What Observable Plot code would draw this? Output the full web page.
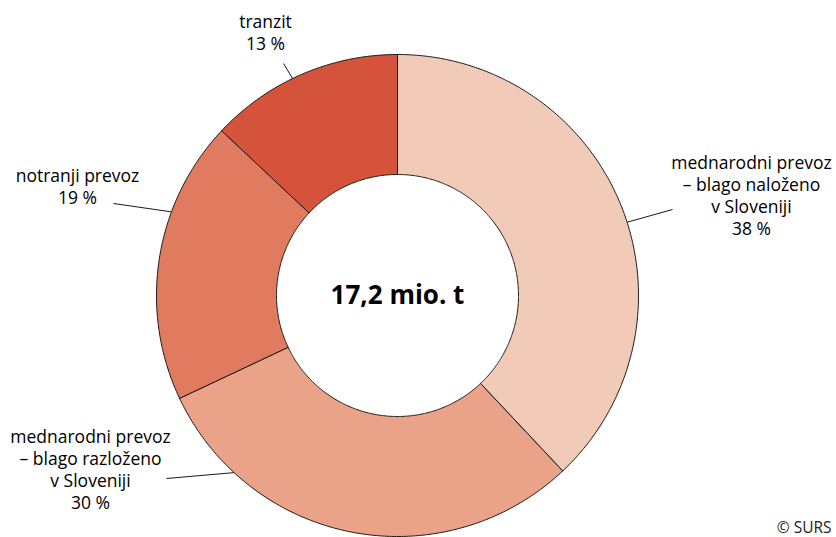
<!DOCTYPE html>
<html>
<head>
<meta charset="utf-8">
<script src="https://cdn.jsdelivr.net/npm/d3@7"></script>
<script src="https://cdn.jsdelivr.net/npm/@observablehq/plot@0.6"></script>
<style>
  html, body { margin: 0; padding: 0; background: #fff; }
  #chart svg { display: block; }
</style>
</head>
<body>
<div id="chart"></div>
<script>
// ---- data ----
const categories = [
  "mednarodni prevoz – blago naloženo v Sloveniji",
  "mednarodni prevoz – blago razloženo v Sloveniji",
  "notranji prevoz",
  "tranzit"
];
const labelText = [
  "mednarodni prevoz\n– blago naloženo\nv Sloveniji\n38 %",
  "mednarodni prevoz\n– blago razloženo\nv Sloveniji\n30 %",
  "notranji prevoz\n19 %",
  "tranzit\n13 %"
];
const shares = [38, 30, 19, 13];
const totalLabel = "17,2 mio. t";
const sourceLabel = "© SURS";

// ---- style / layout ----
const colors = ["#f2cab8", "#eaa288", "#e07b60", "#d5533b"];
const W = 836, H = 537;
const cx = 397, cy = 295;           // pixel centre of donut
const rOuter = 241, rInner = 121;
// leader line angles (deg from 12 o'clock, clockwise) and label anchors (px)
const leaderAngle = [72.3, 222.7, 290.3, 334.2];
const leaderEnd = [[672, 209], [166, 478], [113, 203], [283, 63]];
const labelPos = [[751, 194], [90, 468], [77, 185], [265, 31]];

// ---- build geometry through d3.pie ----
const pie = d3.pie().sort(null).value(d => d.share).startAngle(0).endAngle(2 * Math.PI);
const slices = pie(categories.map((c, i) => ({cat: c, share: shares[i]})));
const pts = [];
for (const s of slices) {
  const n = Math.max(8, Math.ceil((s.endAngle - s.startAngle) / 0.01));
  for (let k = 0; k <= n; k++) {
    const a = s.startAngle + (s.endAngle - s.startAngle) * k / n;
    pts.push({cat: s.data.cat, x: rOuter * Math.sin(a), y: rOuter * Math.cos(a)});
  }
  for (let k = n; k >= 0; k--) {
    const a = s.startAngle + (s.endAngle - s.startAngle) * k / n;
    pts.push({cat: s.data.cat, x: rInner * Math.sin(a), y: rInner * Math.cos(a)});
  }
}
const toData = ([px, py]) => ({x: px - cx, y: cy - py});
const leaders = categories.map((c, i) => {
  const a = leaderAngle[i] * Math.PI / 180;
  const e = toData(leaderEnd[i]);
  return {x1: rOuter * Math.sin(a), y1: rOuter * Math.cos(a), x2: e.x, y2: e.y};
});
const labels = categories.map((c, i) => ({...toData(labelPos[i]), text: labelText[i]}));

const chart = Plot.plot({
  width: W, height: H,
  margin: 0,
  style: {fontFamily: "'Open Sans', sans-serif", background: "#fff"},
  x: {axis: null, domain: [-cx, W - cx]},
  y: {axis: null, domain: [cy - H, cy]},
  color: {domain: categories, range: colors},
  marks: [
    Plot.line(pts, {x: "x", y: "y", z: "cat", fill: "cat", stroke: "#1a1a1a", strokeWidth: 1, curve: "linear-closed"}),
    Plot.link(leaders, {x1: "x1", y1: "y1", x2: "x2", y2: "y2", stroke: "#1a1a1a", strokeWidth: 1}),
    Plot.text(labels, {x: "x", y: "y", text: "text", fontSize: 17.5, lineHeight: 1.257, textAnchor: "middle", lineAnchor: "middle", fill: "#000"}),
    Plot.text([totalLabel], {x: () => 0, y: () => 0, text: d => d, fontSize: 26, fontWeight: "bold", fill: "#000"}),
    Plot.text([sourceLabel], {frameAnchor: "bottom-right", text: d => d, fontSize: 15.5, dx: -5, dy: -5, lineAnchor: "bottom", fill: "#222"})
  ]
});
document.getElementById("chart").append(chart);
</script>
</body>
</html>
